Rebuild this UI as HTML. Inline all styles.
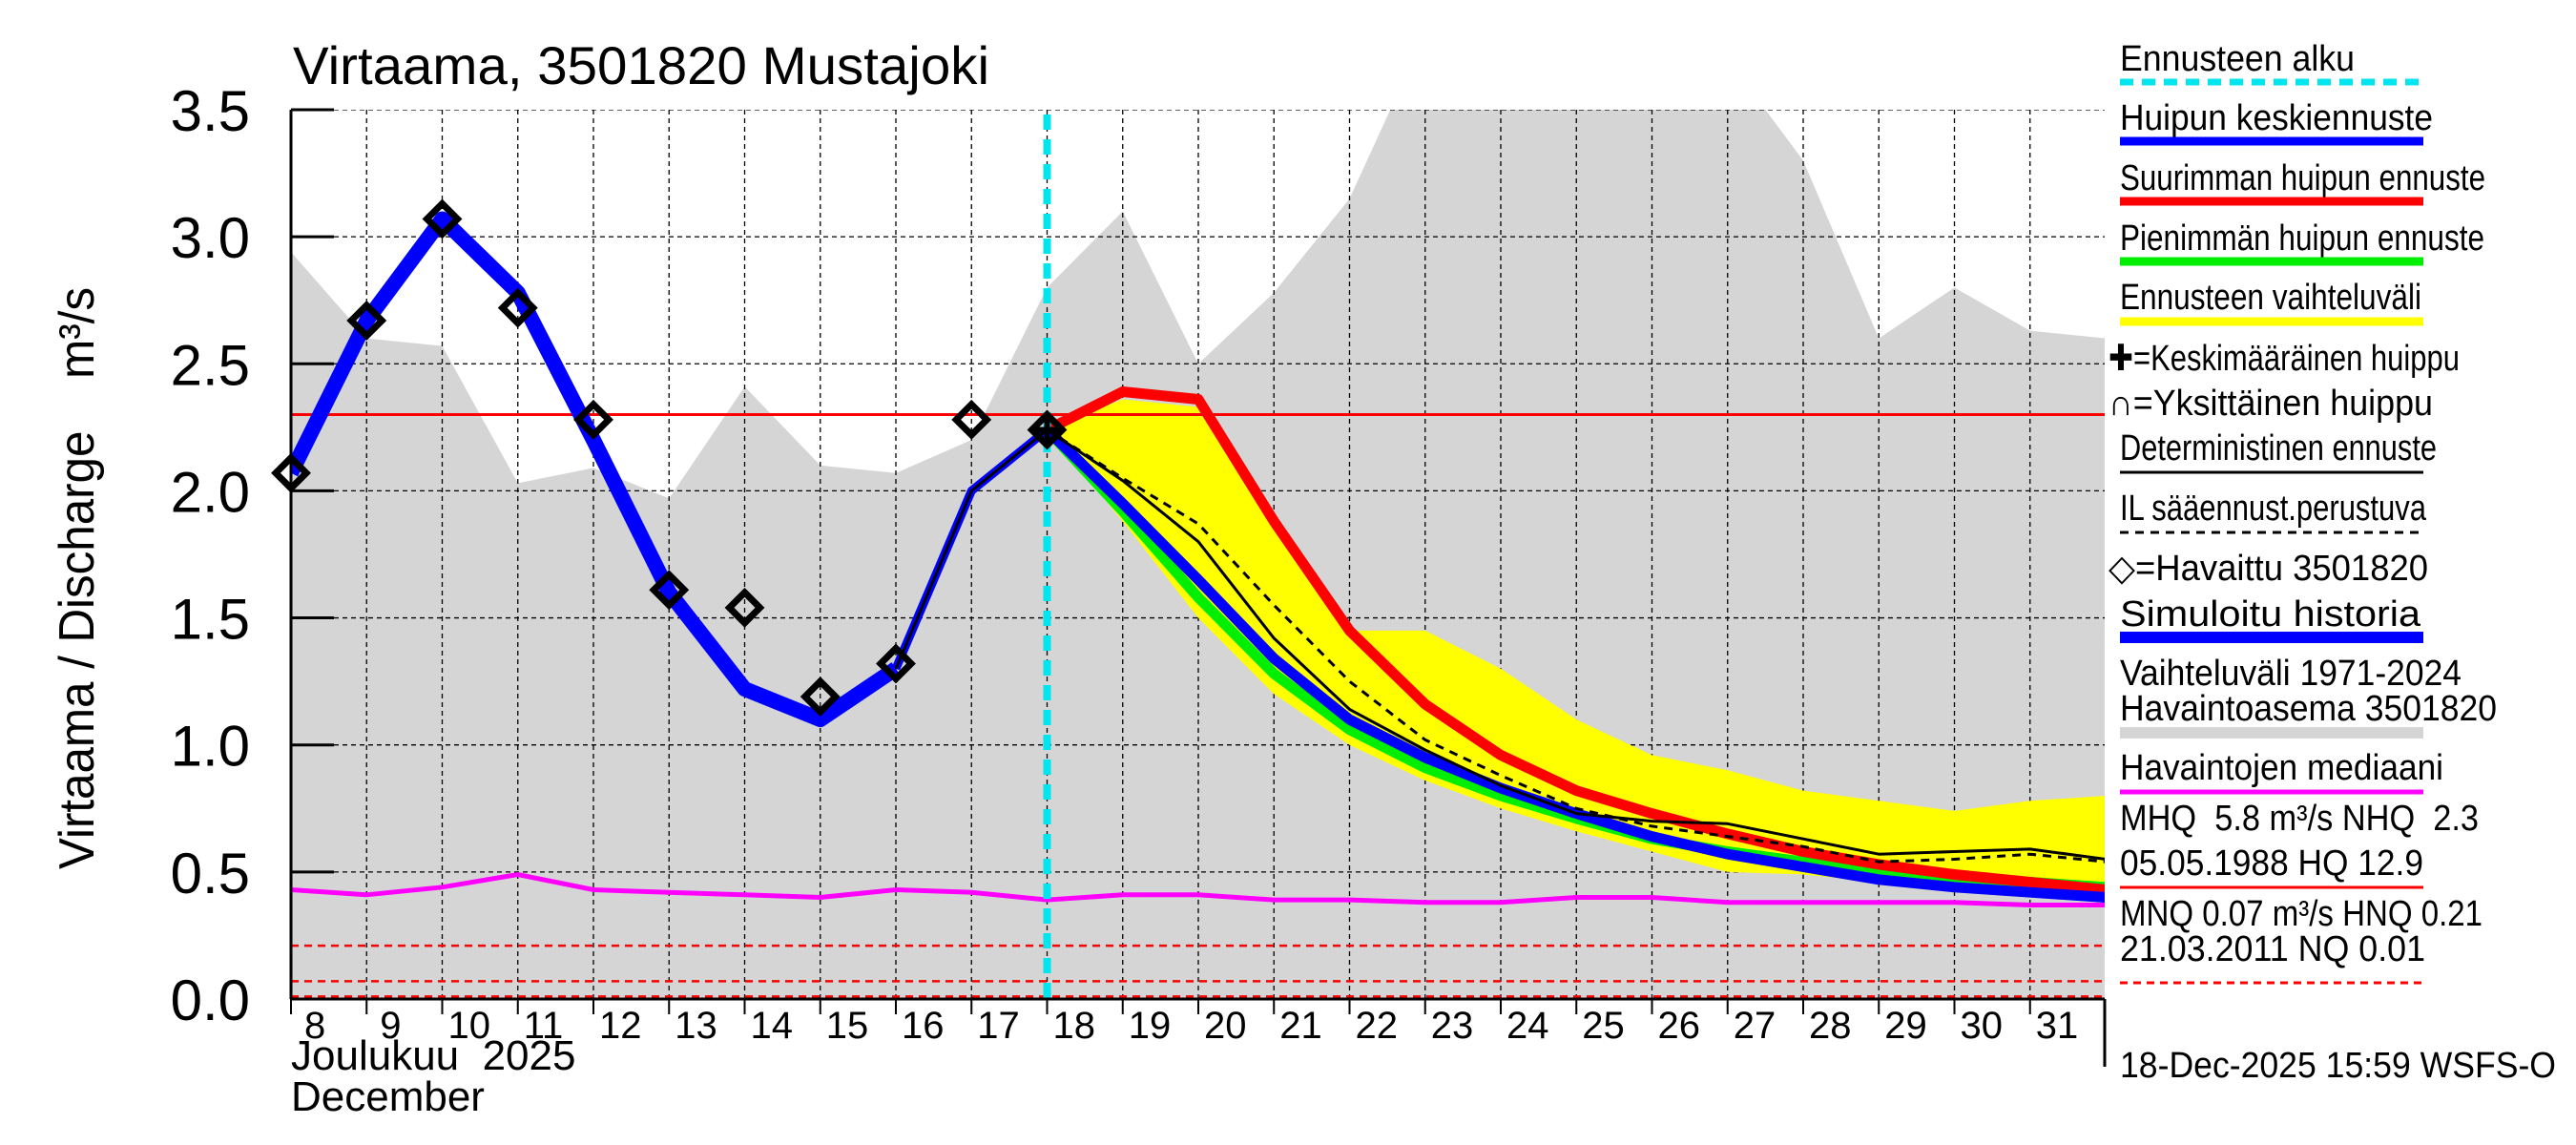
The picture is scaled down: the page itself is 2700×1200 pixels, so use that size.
<!DOCTYPE html>
<html><head><meta charset="utf-8"><style>
html,body{margin:0;padding:0;background:#fff;}
svg{display:block;font-family:"Liberation Sans",sans-serif;}
text{white-space:pre;}
</style></head><body>
<svg id="chart" width="2700" height="1200" viewBox="0 0 2700 1200" xmlns="http://www.w3.org/2000/svg">
<defs><clipPath id="pc"><rect x="305" y="115" width="1901" height="932"/></clipPath></defs>
<g id="plot" clip-path="url(#pc)"></g>
<g id="over"></g>
<g id="legend"></g>
</svg>
<script>
const days = [8,9,10,11,12,13,14,15,16,17,18,19,20,21,22,23,24,25,26,27,28,29,30,31,32];
const grayUpper = [2.94,2.6,2.57,2.03,2.09,1.97,2.41,2.1,2.07,2.2,2.8,3.1,2.5,2.78,3.15,3.8,3.8,3.8,3.8,3.7,3.3,2.6,2.8,2.63,2.6];
const median = [0.43,0.41,0.44,0.49,0.43,0.42,0.41,0.40,0.43,0.42,0.39,0.41,0.41,0.39,0.39,0.38,0.38,0.40,0.40,0.38,0.38,0.38,0.38,0.37,0.37];
const histDays = [8,9,10,11,12,13,14,15,16,17,18];
const simHist = [2.07,2.67,3.07,2.78,2.2,1.6,1.22,1.1,1.3,2.0,2.24];
const observed = [2.07,2.67,3.07,2.72,2.28,1.61,1.54,1.19,1.32,2.28,2.24];
const fcDays = [18,19,20,21,22,23,24,25,26,27,28,29,30,31,32];
const fcMax = [2.24,2.39,2.36,1.88,1.45,1.16,0.96,0.82,0.73,0.65,0.58,0.53,0.49,0.46,0.43];
const fcMean = [2.24,1.95,1.65,1.34,1.1,0.95,0.83,0.73,0.64,0.57,0.52,0.47,0.44,0.42,0.40];
const fcMin = [2.24,1.92,1.58,1.28,1.06,0.91,0.80,0.71,0.63,0.58,0.54,0.50,0.48,0.46,0.44];
const bandUpper = [2.24,2.36,2.33,1.9,1.45,1.45,1.3,1.1,0.96,0.9,0.82,0.78,0.74,0.78,0.80];
const bandLower = [2.24,1.88,1.5,1.2,1.0,0.86,0.75,0.66,0.58,0.5,0.49,0.46,0.44,0.42,0.40];
const determ = [2.24,2.04,1.8,1.42,1.14,0.98,0.84,0.73,0.70,0.69,0.63,0.57,0.58,0.59,0.55];
const ilFc = [2.24,2.05,1.87,1.55,1.25,1.02,0.88,0.75,0.68,0.64,0.60,0.54,0.55,0.57,0.54];
const refLevels = [2.3];
const refDashed = [0.21,0.07,0.01];
const yTicks = [0,0.5,1.0,1.5,2.0,2.5,3.0,3.5];
const xTickLabels = ["8","9","10","11","12","13","14","15","16","17","18","19","20","21","22","23","24","25","26","27","28","29","30","31"];
const forecastStart = 18;

const NS="http://www.w3.org/2000/svg";
const X = d => 305 + (d-8)*79.25;
const Y = v => 1047 - v*266.3;
function mk(tag, attrs, parent){const e=document.createElementNS(NS,tag);for(const k in attrs)e.setAttribute(k,attrs[k]);parent.appendChild(e);return e;}
function pts(xs, ys){return xs.map((d,i)=>X(d).toFixed(1)+","+Y(ys[i]).toFixed(1)).join(" ");}
const plot=document.getElementById('plot'), over=document.getElementById('over'), leg=document.getElementById('legend');

let g=mk('polygon',{points:pts(days,grayUpper)+" "+X(32)+","+Y(0)+" "+X(8)+","+Y(0),fill:'#d5d5d5'},plot);


days.forEach(d=>{const l=mk('line',{x1:X(d),x2:X(d),y1:115,y2:1047,stroke:'#000','stroke-width':1.3,'stroke-dasharray':'5,4'},plot);

});
yTicks.forEach(v=>{const l=mk('line',{x1:305,x2:2206,y1:Y(v),y2:Y(v),stroke:'#000','stroke-width':1.3,'stroke-dasharray':'5,4'},plot);

});
let b=mk('polygon',{points:pts(fcDays,bandUpper)+" "+pts(fcDays.slice().reverse(),bandLower.slice().reverse()),fill:'#ffff00'},plot);


refLevels.forEach(v=>{const l=mk('line',{x1:305,x2:2206,y1:Y(v),y2:Y(v),stroke:'#ff0000','stroke-width':3},plot);

});
refDashed.forEach(v=>{const l=mk('line',{x1:305,x2:2206,y1:Y(v),y2:Y(v),stroke:'#ff0000','stroke-width':2.5,'stroke-dasharray':'8,6'},plot);

});
let m=mk('polyline',{points:pts(days,median),fill:'none',stroke:'#ff00ff','stroke-width':5},plot);


function line(xs,ys,color,w,name,dash){const l=mk('polyline',{points:pts(xs,ys),fill:'none',stroke:color,'stroke-width':w,'stroke-linejoin':'round'},plot);if(dash)l.setAttribute('stroke-dasharray',dash);

}
line(fcDays,fcMin,'#00ee00',11,'min-peak-forecast');
line(fcDays,fcMax,'#ff0000',11,'max-peak-forecast');
line(fcDays,fcMean,'#0000ff',11,'mean-peak-forecast');
line(fcDays,determ,'#000',3,'deterministic-forecast');
line(fcDays,ilFc,'#000',3,'il-forecast','9,7');
line(histDays.slice(0,9),simHist.slice(0,9),'#0000ff',16,'simulated-history');
line(histDays.slice(8),simHist.slice(8),'#0000ff',9,'simulated-history-recent');
line(histDays.slice(8),simHist.slice(8),'#000',3,'simulated-history-outline');
let c=mk('line',{x1:X(forecastStart),x2:X(forecastStart),y1:120,y2:1047,stroke:'#00e5ee','stroke-width':8,'stroke-dasharray':'16,10'},over);


histDays.forEach((d,i)=>{const x=X(d),y=Y(observed[i]);const p=mk('polygon',{points:`${x},${y-16} ${x+16},${y} ${x},${y+16} ${x-16},${y}`,fill:'none',stroke:'#000','stroke-width':7},over);

});
let cr=mk('path',{d:`M${X(18)-12},${Y(2.24)}h24M${X(18)},${Y(2.24)-12}v24`,stroke:'#000','stroke-width':6},over);


mk('line',{x1:305,x2:305,y1:115,y2:1047,stroke:'#000','stroke-width':3},over);
mk('line',{x1:305,x2:2206,y1:1047,y2:1047,stroke:'#000','stroke-width':3},over);
mk('line',{x1:2206,x2:2206,y1:1047,y2:1118,stroke:'#000','stroke-width':3},over);
yTicks.forEach(v=>{mk('line',{x1:305,x2:350,y1:Y(v),y2:Y(v),stroke:'#000','stroke-width':3},over);
const t=mk('text',{x:262,y:Y(v)+22,'font-size':60,'text-anchor':'end'},over);t.textContent=v.toFixed(1);

});
xTickLabels.forEach((s,i)=>{const d=days[i];mk('line',{x1:X(d),x2:X(d),y1:1047,y2:1063,stroke:'#000','stroke-width':2},over);
const t=mk('text',{x:X(d)+(s.length>1?6:14),y:1088,'font-size':40},over);t.textContent=s;

});
function txt(x,y,s,size,name,extra){const t=mk('text',Object.assign({x:x,y:y,'font-size':size},extra||{}),over);t.textContent=s;return t;}
txt(305,1121,'Joulukuu  2025',44,'month-label-fi');
txt(305,1164,'December',44,'month-label-en');
txt(307,88,'Virtaama, 3501820 Mustajoki',56,'chart-title',{textLength:730,lengthAdjust:'spacingAndGlyphs'});
txt(0,0,'Virtaama / Discharge    m³/s',52,'y-axis-title',{'text-anchor':'middle',transform:'translate(98,606) rotate(-90)',textLength:610,lengthAdjust:'spacingAndGlyphs'});

const LX=2222, LE=2540;
function ltext(y,s,endThumb,name,x0){const x=x0||LX;const t=mk('text',{x:x,y:y,'font-size':38,textLength:((endThumb*1.722)-x).toFixed(0),lengthAdjust:'spacingAndGlyphs'},leg);t.textContent=s;

}
function lline(y,color,w,dash,name){const l=mk('line',{x1:LX,x2:LE,y1:y,y2:y,stroke:color,'stroke-width':w},leg);if(dash)l.setAttribute('stroke-dasharray',dash);

}
ltext(74,'Ennusteen alku',1433,'legend-forecast-start'); lline(86,'#00e5ee',7,'14,9','legend-forecast-start-line');
ltext(136,'Huipun keskiennuste',1481,'legend-mean-peak'); lline(148,'#0000ff',9,null,'legend-mean-peak-line');
ltext(199,'Suurimman huipun ennuste',1513,'legend-max-peak'); lline(211,'#ff0000',9,null,'legend-max-peak-line');
ltext(262,'Pienimmän huipun ennuste',1512,'legend-min-peak'); lline(274,'#00ee00',9,null,'legend-min-peak-line');
ltext(324,'Ennusteen vaihteluväli',1474,'legend-forecast-range'); lline(337,'#ffff00',9,null,'legend-forecast-range-line');
ltext(388,'✚=Keskimääräinen huippu',1497,'legend-mean-peak-marker',2210);
ltext(435,'∩=Yksittäinen huippu',1481,'legend-single-peak',2210);
ltext(482,'Deterministinen ennuste',1483,'legend-deterministic'); lline(495,'#000',3,null,'legend-deterministic-line');
ltext(545,'IL sääennust.perustuva',1477,'legend-il-forecast'); lline(558,'#000',3,'9,7','legend-il-forecast-line');
ltext(608,'◇=Havaittu 3501820',1478,'legend-observed',2210);
ltext(656,'Simuloitu historia',1473,'legend-simulated'); lline(668,'#0000ff',12,null,'legend-simulated-line');
ltext(718,'Vaihteluväli 1971-2024',1498,'legend-range-1'); ltext(755,'Havaintoasema 3501820',1520,'legend-range-2'); lline(768,'#d5d5d5',12,null,'legend-range-line');
ltext(817,'Havaintojen mediaani',1487,'legend-median'); lline(830,'#ff00ff',5,null,'legend-median-line');
ltext(870,'MHQ  5.8 m³/s NHQ  2.3',1509,'legend-mhq'); ltext(917,'05.05.1988 HQ 12.9',1475,'legend-hq'); lline(930,'#ff0000',3,null,'legend-nhq-line');
ltext(970,'MNQ 0.07 m³/s HNQ 0.21',1511,'legend-mnq'); ltext(1007,'21.03.2011 NQ 0.01',1476,'legend-nq'); lline(1030,'#ff0000',3,'8,6','legend-low-line');
ltext(1129,'18-Dec-2025 15:59 WSFS-O',1556,'timestamp');
</script>
</body></html>
